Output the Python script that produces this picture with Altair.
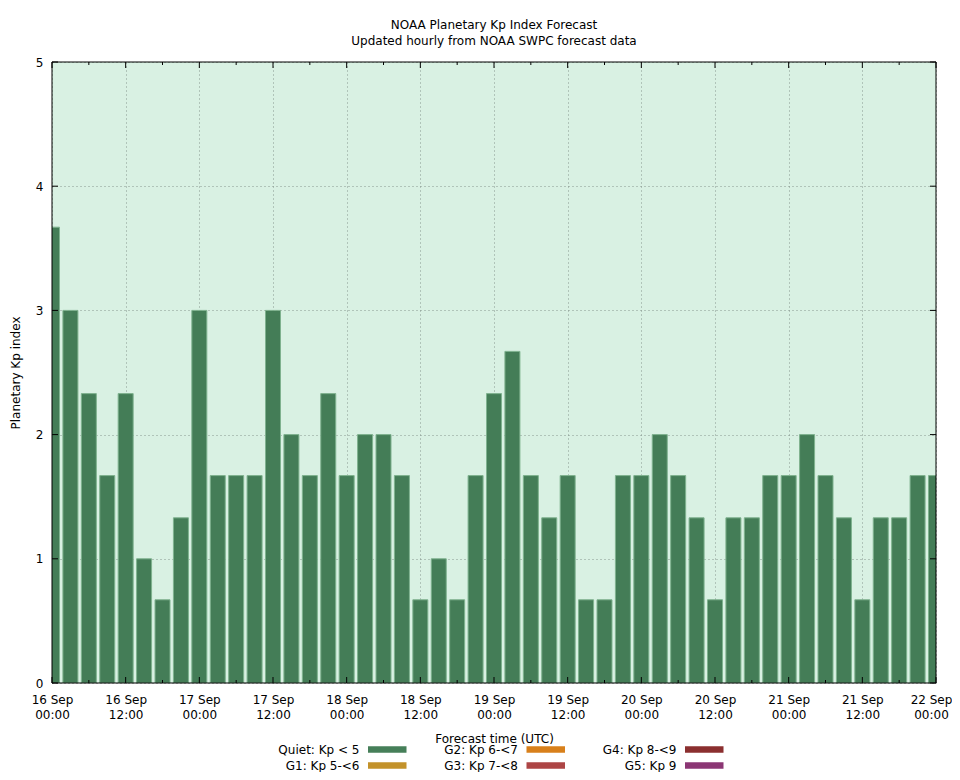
import altair as alt
import pandas as pd

# ---- data ----
hours = list(range(0, 145, 3))  # hours after 16 Sep 00:00 UTC
kp = [3.67, 3.0, 2.33, 1.67, 2.33, 1.0, 0.67, 1.33,
      3.0, 1.67, 1.67, 1.67, 3.0, 2.0, 1.67, 2.33,
      1.67, 2.0, 2.0, 1.67, 0.67, 1.0, 0.67, 1.67,
      2.33, 2.67, 1.67, 1.33, 1.67, 0.67, 0.67, 1.67,
      1.67, 2.0, 1.67, 1.33, 0.67, 1.33, 1.33, 1.67,
      1.67, 2.0, 1.67, 1.33, 0.67, 1.33, 1.33, 1.67,
      1.67]

tick_hours = list(range(0, 145, 12))
tick_day = ["16 Sep", "16 Sep", "17 Sep", "17 Sep", "18 Sep", "18 Sep", "19 Sep",
            "19 Sep", "20 Sep", "20 Sep", "21 Sep", "21 Sep", "22 Sep"]
tick_time = ["00:00", "12:00", "00:00", "12:00", "00:00", "12:00", "00:00",
             "12:00", "00:00", "12:00", "00:00", "12:00", "00:00"]
minor_hours = list(range(6, 145, 12))
y_ticks = [0, 1, 2, 3, 4, 5]

legend_labels = ["Quiet: Kp < 5", "G1: Kp 5-<6", "G2: Kp 6-<7",
                 "G3: Kp 7-<8", "G4: Kp 8-<9", "G5: Kp 9"]
legend_colors = ["#467f59", "#c3922a", "#d8801b", "#ad4545", "#8b2f2f", "#8b3674"]

title_lines = ["NOAA Planetary Kp Index Forecast", "Updated hourly from NOAA SWPC forecast data"]

# ---- layout ----
W, H = 884, 621
FONT = "DejaVu Sans"
BAR_FILL = "#447d57"
BAR_EDGE = "#7fb28f"
BG = "#d9f1e3"

df = pd.DataFrame({"hour": hours, "kp": kp})

label_array = "[" + ",".join("['%s','%s']" % (d, t) for d, t in zip(tick_day, tick_time)) + "]"

xscale = alt.Scale(domain=[0, 144], nice=False, zero=False, padding=0)
yscale = alt.Scale(domain=[0, 5], nice=False, zero=True, padding=0)

bars = alt.Chart(df).mark_bar(
    width=15, fill=BAR_FILL, stroke=BAR_EDGE, strokeWidth=1, clip=True
).encode(
    x=alt.X("hour:Q", scale=xscale, axis=alt.Axis(
        values=tick_hours, labelExpr=label_array + "[round(datum.value/12)]",
        ticks=False, domain=False, grid=True, gridDash=[1, 3], gridColor="#7f8f86",
        gridOpacity=0.9, labelFont=FONT, labelFontSize=12, labelColor="#000000",
        labelPadding=11, labelLineHeight=15, labelFlush=False, labelOverlap=False,
        labelBaseline="top",
        labelOffset={"condition": {"test": "datum.value >= 144", "value": -5}, "value": 0},
        title="Forecast time (UTC)", titleFont=FONT, titleFontSize=12,
        titleFontWeight="normal", titleColor="#000000", titleY=55, titleBaseline="middle",
    )),
    y=alt.Y("kp:Q", scale=yscale, axis=alt.Axis(
        values=y_ticks, format="d", ticks=False, domain=False, grid=True,
        gridDash=[1, 3], gridColor="#7f8f86", gridOpacity=0.9,
        labelFont=FONT, labelFontSize=12, labelColor="#000000", labelPadding=9,
        title="Planetary Kp index", titleFont=FONT, titleFontSize=12,
        titleFontWeight="normal", titleColor="#000000", titleX=-37, titleY=H / 2,
        titleBaseline="middle",
    )),
)

one = pd.DataFrame({"k": [0]})

frame = alt.Chart(one).mark_rect(
    fillOpacity=0, stroke="#000000", strokeWidth=1
).encode(x=alt.value(0), x2=alt.value(W), y=alt.value(0), y2=alt.value(H))

tdf = pd.DataFrame({"h": tick_hours})
mdf = pd.DataFrame({"h": minor_hours})
ydf = pd.DataFrame({"v": y_ticks})

def xt(data, y0, y1):
    return alt.Chart(data).mark_rule(color="#000000", strokeWidth=1).encode(
        x=alt.X("h:Q", scale=xscale), y=alt.value(y0), y2=alt.value(y1))

def yt(x0, x1):
    return alt.Chart(ydf).mark_rule(color="#000000", strokeWidth=1).encode(
        y=alt.Y("v:Q", scale=yscale), x=alt.value(x0), x2=alt.value(x1))

ticks = [xt(tdf, 0, 6), xt(tdf, H, H - 6), xt(mdf, 0, 3), xt(mdf, H, H - 3),
         yt(0, 6), yt(W, W - 6)]

legend_layers = []
for i, (lab, col) in enumerate(zip(legend_labels, legend_colors)):
    c, r = i // 2, i % 2
    tx = 307.5 + 158.5 * c
    ty = 687.5 + 16 * r
    ldf = pd.DataFrame({"label": [lab]})
    legend_layers.append(alt.Chart(ldf).mark_text(
        align="right", baseline="middle", font=FONT, fontSize=12, color="#000000"
    ).encode(text="label:N", x=alt.value(tx), y=alt.value(ty)))
    legend_layers.append(alt.Chart(ldf).mark_rule(
        color=col, strokeWidth=6.5
    ).encode(x=alt.value(tx + 8.5), x2=alt.value(tx + 47), y=alt.value(ty)))

chart = alt.layer(bars, frame, *ticks, *legend_layers).properties(
    width=W, height=H,
    autosize=alt.AutoSizeParams(type="none"),
    padding={"left": 44, "top": 54, "right": 16, "bottom": 89},
    background="#ffffff",
    title=alt.TitleParams(
        text=title_lines, font=FONT, fontSize=12, fontWeight="normal",
        color="#000000", anchor="middle", offset=8, lineHeight=16,
    ),
).configure_view(fill=BG, stroke=None)

chart.save("out.html", embed_options={"renderer": "svg", "actions": False})
